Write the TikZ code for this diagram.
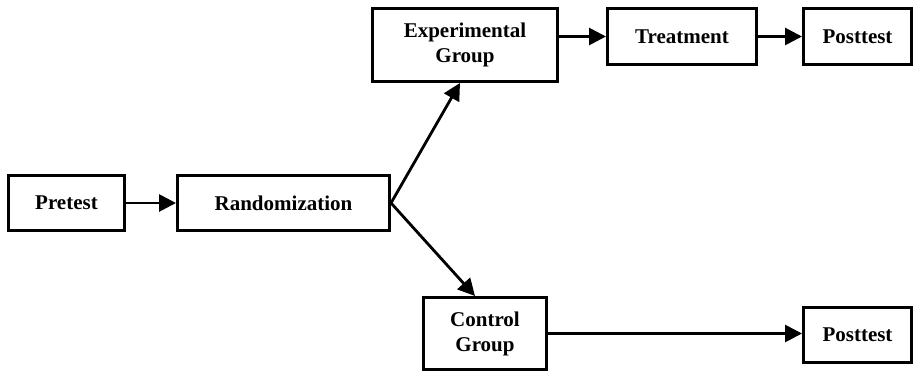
\documentclass[tikz,border=0pt]{standalone}
\usepackage{fontspec}
\setmainfont{Liberation Serif}
\usetikzlibrary{arrows.meta,calc}
\begin{document}
\begin{tikzpicture}[x=1pt,y=-1pt,
  stagebox/.style={draw=black, line width=3pt, fill=white, rectangle, inner sep=0pt,
    align=center, font=\fontsize{21}{25}\selectfont\bfseries},
  flow/.style={line width=2.8pt, -{Triangle[length=17pt,width=17pt]}}]
  \useasboundingbox (0,0) rectangle (914,372);
  % boxes
  \node[stagebox, minimum width=116pt, minimum height=55pt] (pre)  at (66.5,203) {Pretest};
  \node[stagebox, minimum width=212pt, minimum height=55pt] (rand) at (283.5,203) {Randomization};
  \node[stagebox, minimum width=185pt, minimum height=73pt] (exp)  at (465,45) {Experimental\\Group};
  \node[stagebox, minimum width=149pt, minimum height=56pt] (treat) at (682,36.5) {Treatment};
  \node[stagebox, minimum width=108pt, minimum height=56pt] (post1) at (857.5,36.5) {Posttest};
  \node[stagebox, minimum width=123pt, minimum height=72pt] (ctrl) at (485,333.5) {Control\\Group};
  \node[stagebox, minimum width=108pt, minimum height=55pt] (post2) at (857.5,335) {Posttest};
  % connectors
  \coordinate (expin) at ($(exp.south)+(-5,0)$);
  \coordinate (ctrlin) at ($(ctrl.north)+(-10,0)$);
  \draw[flow] (pre.east) -- (rand.west);
  \draw[flow] (rand.east) -- (expin);
  \draw[flow] (rand.east) -- (ctrlin);
  \draw[flow] (exp.east |- treat.west) -- (treat.west);
  \draw[flow] (treat.east) -- (post1.west);
  \draw[flow] (ctrl.east) -- (ctrl.east -| post2.west);
\end{tikzpicture}
\end{document}
